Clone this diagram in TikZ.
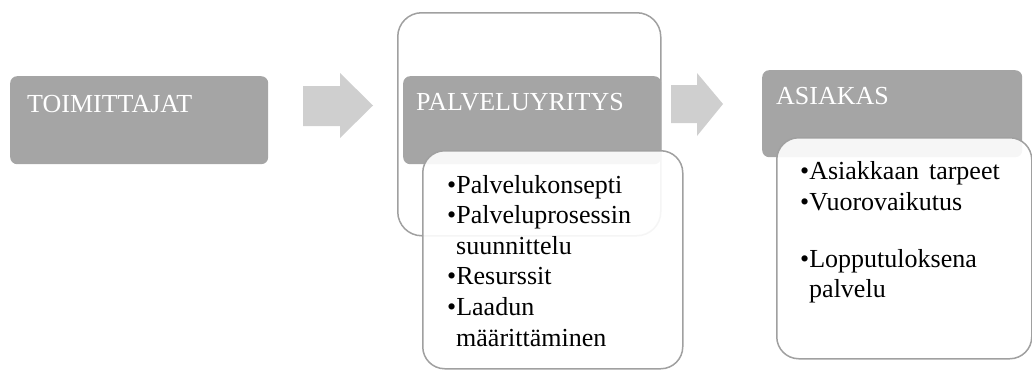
\documentclass[tikz,border=0pt]{standalone}
\usepackage{fontspec}
\setmainfont{Liberation Serif}
\newfontfamily\timesfont{Liberation Serif}
\definecolor{darkfill}{RGB}{165,165,165}
\definecolor{arrowfill}{RGB}{207,207,207}
\definecolor{edgegray}{RGB}{160,160,160}
\tikzset{
  darkbox/.style={draw=none, fill=darkfill, rounded corners=7pt, inner sep=0pt, anchor=north west},
  outerbox/.style={draw=edgegray, line width=1.5pt, fill=white, rounded corners=24pt, inner sep=0pt, anchor=north west},
  listbox/.style={draw=edgegray, line width=1.5pt, fill=white, fill opacity=0.9, rounded corners=22pt, inner sep=0pt, anchor=north west},
  headtext/.style={text=white, inner sep=0pt, anchor=base west, font=\timesfont\fontsize{26}{30}\selectfont},
  itemtext/.style={text=black, inner sep=0pt, anchor=base west, font=\timesfont\fontsize{26}{30}\selectfont},
  blockarrow/.style={fill=arrowfill, draw=none}
}
\begin{document}
\begin{tikzpicture}[x=1pt,y=-1pt]
\useasboundingbox (0,0) rectangle (1032,372);
% block arrows
\fill[blockarrow] (303,86) -- (340,86) -- (340,73) -- (373,105.5) -- (340,138) -- (340,126) -- (303,126) -- cycle;
\fill[blockarrow] (671,85) -- (697,85) -- (697,73) -- (723,104) -- (697,136) -- (697,123) -- (671,123) -- cycle;
% TOIMITTAJAT
\node[darkbox, minimum width=258pt, minimum height=88pt] (toim) at (10,76) {};
\node[headtext] (toimt) at (27,112) {TOIMITTAJAT};
% PALVELUYRITYS group
\node[outerbox, minimum width=263pt, minimum height=223pt] (pyouter) at (397,12) {};
\node[darkbox, minimum width=258pt, minimum height=88pt] (py) at (403,76) {};
\node[headtext] (pyt) at (416,110) {PALVELUYRITYS};
\node[listbox, minimum width=260pt, minimum height=218pt] (pylist) at (422,150) {};
\node[itemtext] (py1) at (447,193) {•Palvelukonsepti};
\node[itemtext] (py2) at (447,223) {•Palveluprosessin};
\node[itemtext] (py2b) at (456,254) {suunnittelu};
\node[itemtext] (py3) at (447,284) {•Resurssit};
\node[itemtext] (py4) at (447,315) {•Laadun};
\node[itemtext] (py4b) at (456,346) {määrittäminen};
% ASIAKAS group
\node[darkbox, minimum width=260pt, minimum height=87pt] (as) at (762,70) {};
\node[headtext] (ast) at (776,104) {ASIAKAS};
\node[listbox, minimum width=255pt, minimum height=221pt] (aslist) at (776,137) {};
\node[itemtext] (as1) at (800,179) {•Asiakkaan\hspace{10pt}tarpeet};
\node[itemtext] (as2) at (800,210) {•Vuorovaikutus};
\node[itemtext] (as3) at (800,267) {•Lopputuloksena};
\node[itemtext] (as3b) at (809,297) {palvelu};
\end{tikzpicture}
\end{document}
